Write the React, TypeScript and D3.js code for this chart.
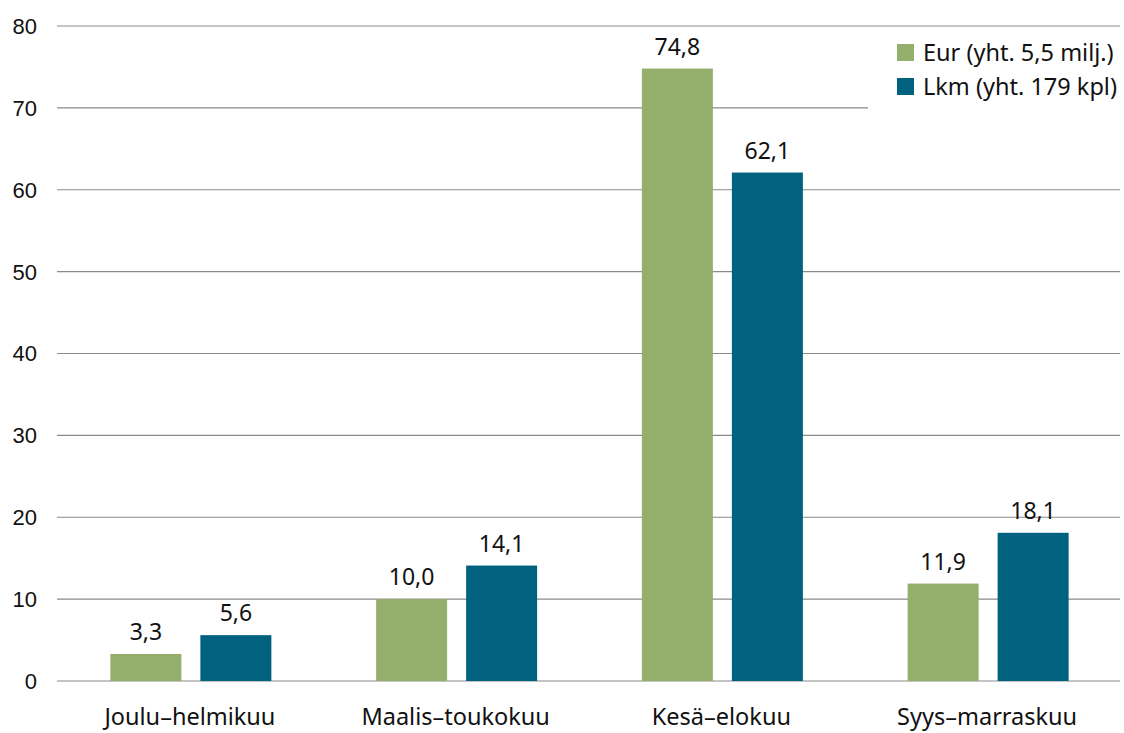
import React from "react";
import * as d3 from "d3";

const categories = ["Joulu–helmikuu", "Maalis–toukokuu", "Kesä–elokuu", "Syys–marraskuu"];
const seriesNames = ["Eur (yht. 5,5 milj.)", "Lkm (yht. 179 kpl)"];
const eurValues = [3.3, 10.0, 74.8, 11.9];
const lkmValues = [5.6, 14.1, 62.1, 18.1];
const yTicks = [0, 10, 20, 30, 40, 50, 60, 70, 80];
const colors = ["#94ae6b", "#00627f"];

const W = 1124, H = 733;
const left = 57, right = 1120, top = 26, bottom = 681;
const labelFont = "'Source Sans Pro', 'Noto Sans', sans-serif";

export default function App() {
  const x = d3.scaleBand<string>().domain(categories).range([left, right]);
  const y = d3.scaleLinear().domain([0, 80]).range([bottom, top]);
  const barW = 71, gap = 19;
  const series = [eurValues, lkmValues];
  const fmt = (v: number) => v.toFixed(1).replace(".", ",");
  return (
    <svg width={W} height={H} style={{ position: "absolute", left: 0, top: 0, background: "#fff" }}>
      {yTicks.map((t) => (
        <g key={t}>
          <line x1={left} x2={right} y1={y(t)} y2={y(t)} stroke="#8a8a8a" strokeWidth={1.2} />
          <text x={37} y={y(t)} dy="0.36em" textAnchor="end" fontFamily="'Liberation Sans', Arial, sans-serif" fontSize={22} fill="#111">{t}</text>
        </g>
      ))}
      {categories.map((c, i) => {
        const cx = x(c)! + x.bandwidth() / 2;
        return (
          <g key={c}>
            {series.map((vals, s) => {
              const bx = cx - (barW + gap / 2) + s * (barW + gap) + 1;
              const v = vals[i];
              return (
                <g key={s}>
                  <rect x={bx} y={y(v)} width={barW} height={bottom - y(v)} fill={colors[s]} />
                  <text x={bx + barW / 2} y={y(v) - 14} textAnchor="middle" fontFamily={labelFont} fontSize={23} fill="#111">{fmt(v)}</text>
                </g>
              );
            })}
            <text x={cx} y={725} textAnchor="middle" fontFamily={labelFont} fontSize={23.5} fill="#111">{c}</text>
          </g>
        );
      })}
      <rect x={868} y={30} width={252} height={79} fill="#fff" />
      {seriesNames.map((n, s) => (
        <g key={n}>
          <rect x={897} y={44 + s * 34} width={17} height={17} fill={colors[s]} />
          <text x={923} y={53 + s * 34} dy="0.35em" fontFamily={labelFont} fontSize={23.5} fill="#111">{n}</text>
        </g>
      ))}
    </svg>
  );
}
